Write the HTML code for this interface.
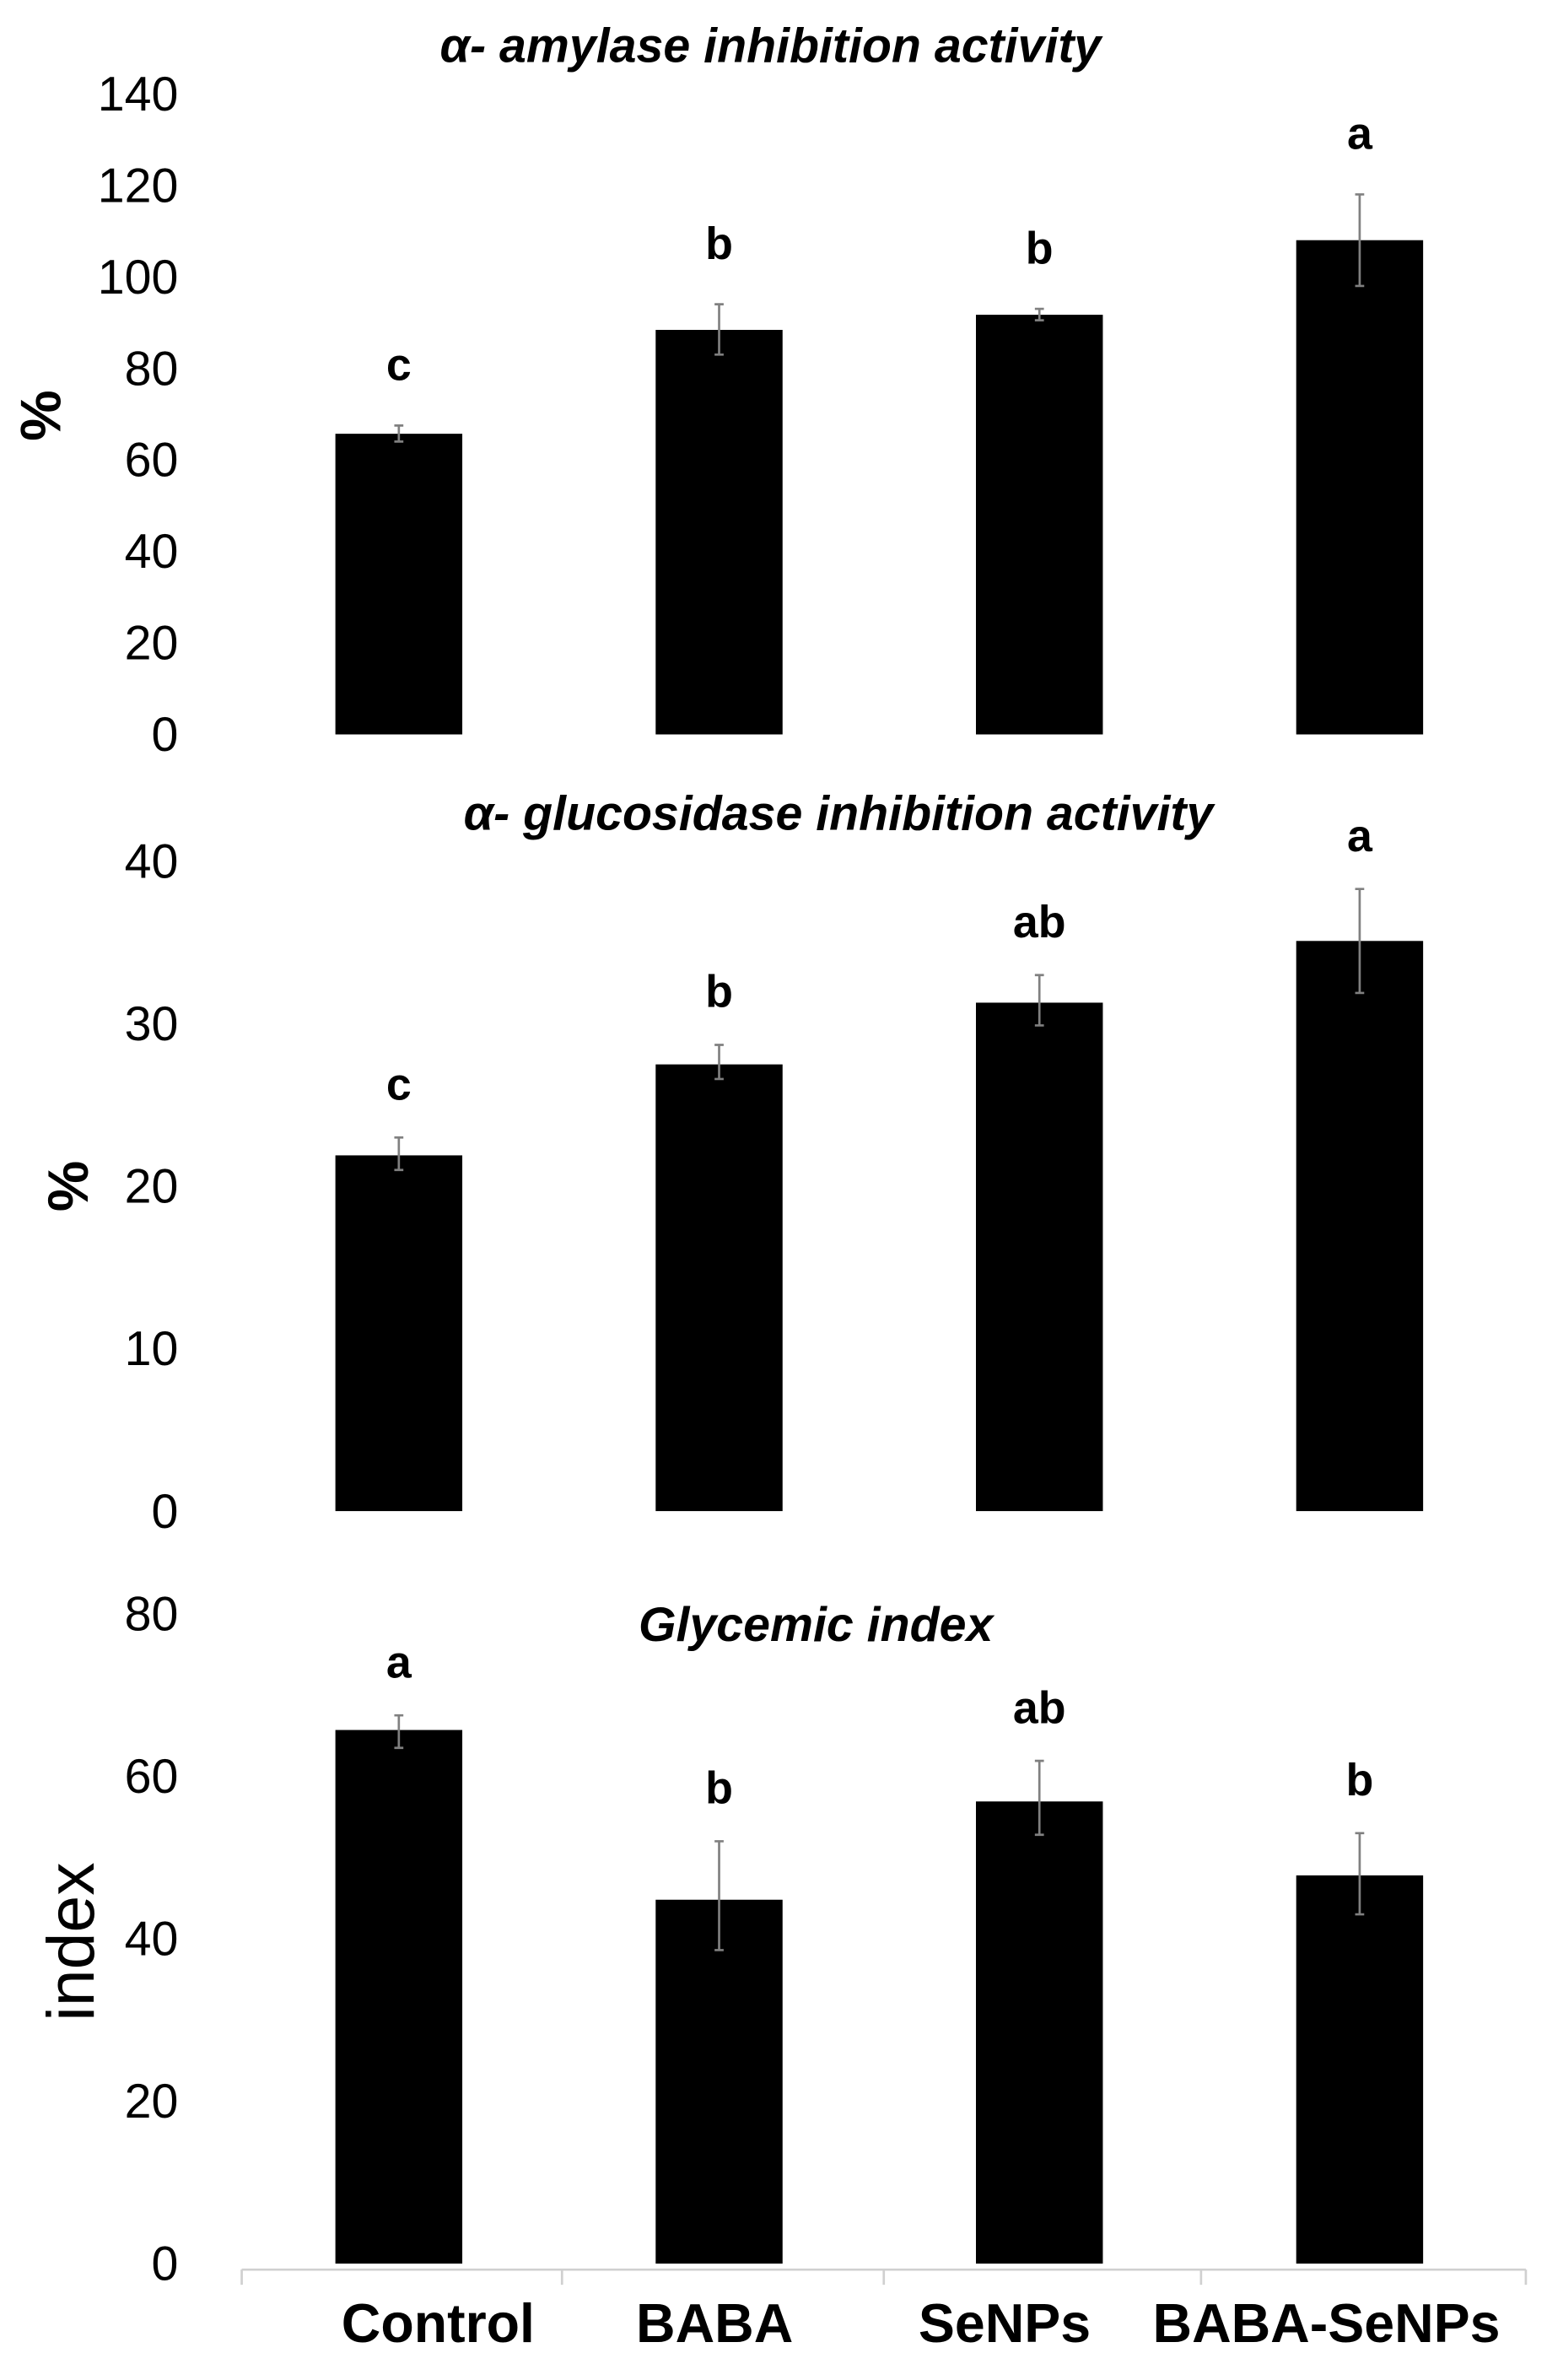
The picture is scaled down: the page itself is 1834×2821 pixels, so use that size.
<!DOCTYPE html>
<html><head><meta charset="utf-8"><style>
html,body{margin:0;padding:0;background:#fff;}
svg{display:block;}
text{font-family:"Liberation Sans Narrow","Liberation Sans",sans-serif;fill:#000;}
</style></head>
<body>
<svg id="fig" width="1834" height="2821" viewBox="0 0 1024 1575" xmlns="http://www.w3.org/2000/svg"></svg>
<script>
const categories = ["Control","BABA","SeNPs","BABA-SeNPs"];
const amylaseValues = [65.7, 88.4, 91.7, 108];
const amylaseErrLow = [64, 83, 90.5, 98];
const amylaseErrHigh = [67.5, 94, 93, 118];
const amylaseLetters = ["c","b","b","a"];
const amylaseTicks = [0,20,40,60,80,100,120,140];

const glucosidaseValues = [21.9, 27.5, 31.3, 35.1];
const glucosidaseErrLow = [21, 26.6, 29.9, 31.9];
const glucosidaseErrHigh = [23, 28.7, 33, 38.3];
const glucosidaseLetters = ["c","b","ab","a"];
const glucosidaseTicks = [0,10,20,30,40];

const glycemicValues = [65.7, 44.8, 56.9, 47.8];
const glycemicErrLow = [63.5, 38.6, 52.8, 43];
const glycemicErrHigh = [67.5, 52, 61.9, 53];
const glycemicLetters = ["a","b","ab","b"];
const glycemicTicks = [0,20,40,60,80];

const NS = "http://www.w3.org/2000/svg";
const svg = document.getElementById("fig");
function mk(tag, attrs, parent){
  const e = document.createElementNS(NS, tag);
  for (const k in attrs) e.setAttribute(k, attrs[k]);
  (parent||svg).appendChild(e);
  return e;
}
const barCenters = [264, 476, 688, 900];
const barW = 84;

function panel(cfg){
  const g = mk("g", {});
  
  
  const y = v => cfg.y0 - (v - 0) / cfg.max * (cfg.y0 - cfg.yTop);
  cfg.ticks.forEach(t => {
    const tx = mk("text", {x:118, y:y(t)+11, "text-anchor":"end", "font-size":32}, g);
    tx.textContent = t;
    
    
  });
  const tt = mk("text", {x:cfg.titleX, y:cfg.titleY, "text-anchor":"middle", "font-size":32, "font-weight":"bold", "font-style":"italic"}, g);
  tt.textContent = cfg.title;
  
  
  const yt = mk("text", {x:0, y:0, "text-anchor":"middle", "font-size":cfg.ylabSize, "font-weight":cfg.ylabWeight, transform:`translate(${cfg.ylabX},${cfg.ylabY}) rotate(-90)`}, g);
  yt.textContent = cfg.ylab;
  
  
  cfg.values.forEach((v,i) => {
    const cx = barCenters[i];
    const r = mk("rect", {x:cx-barW/2, y:y(v), width:barW, height:cfg.y0-y(v), fill:"#000"}, g);
    
    
    const lo = y(cfg.lo[i]), hi = y(cfg.hi[i]);
    const eb = mk("path", {d:`M${cx},${lo}V${hi}M${cx-3},${lo}H${cx+3}M${cx-3},${hi}H${cx+3}`, stroke:"#808080", "stroke-width":1.5, fill:"none"}, g);
    
    
    const lt = mk("text", {x:cx, y:Math.min(hi, y(v)) - cfg.letterGap, "text-anchor":"middle", "font-size":30, "font-weight":"bold"}, g);
    lt.textContent = cfg.letters[i];
    
    
  });
}

panel({name:"amylase-chart", y0:486, yTop:62, max:140, ticks:amylaseTicks, values:amylaseValues, lo:amylaseErrLow, hi:amylaseErrHigh, letters:amylaseLetters, title:"α- amylase inhibition activity", titleX:510, titleY:41, ylab:"%", ylabX:40, ylabY:275, ylabSize:38, ylabWeight:"600", letterGap:30});
panel({name:"glucosidase-chart", y0:1000, yTop:570, max:40, ticks:glucosidaseTicks, values:glucosidaseValues, lo:glucosidaseErrLow, hi:glucosidaseErrHigh, letters:glucosidaseLetters, title:"α- glucosidase inhibition activity", titleX:555, titleY:549, ylab:"%", ylabX:58, ylabY:785, ylabSize:38, ylabWeight:"600", letterGap:25});
panel({name:"glycemic-chart", y0:1498, yTop:1068, max:80, ticks:glycemicTicks, values:glycemicValues, lo:glycemicErrLow, hi:glycemicErrHigh, letters:glycemicLetters, title:"Glycemic index", titleX:540, titleY:1086, ylab:"index", ylabX:62, ylabY:1285, ylabSize:44, ylabWeight:"normal", letterGap:25});

// x axis of bottom chart
const ax = mk("path", {d:"M160,1502H1010M160,1502V1512M372,1502V1512M585,1502V1512M795,1502V1512M1010,1502V1512", stroke:"#d0d0d0", "stroke-width":1.5, fill:"none"});


const labelX = [290, 473, 665, 878];
categories.forEach((c,i) => {
  const t = mk("text", {x:labelX[i], y:1550, "text-anchor":"middle", "font-size":36, "font-weight":"bold"});
  t.textContent = c;
  
  
});
</script>
</body></html>
